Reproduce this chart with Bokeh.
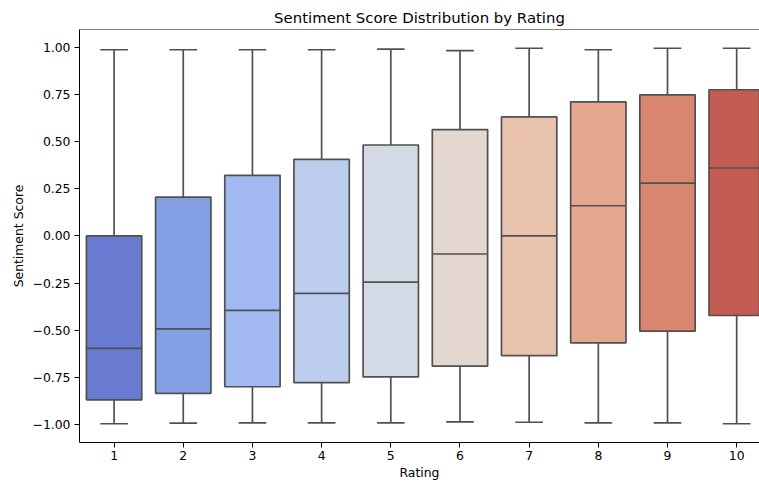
from bokeh.plotting import figure
from bokeh.models import ColumnDataSource, FixedTicker, Range1d, Span, CustomJSTickFormatter
from bokeh.embed import file_html
from bokeh.resources import INLINE

ratings = [1, 2, 3, 4, 5, 6, 7, 8, 9, 10]
tick_labels = ["1", "2", "3", "4", "5", "6", "7", "8", "9", "10"]
whisker_low = [-0.996, -0.993, -0.991, -0.991, -0.991, -0.986, -0.988, -0.991, -0.991, -0.996]
q1 = [-0.869, -0.835, -0.800, -0.778, -0.748, -0.690, -0.635, -0.567, -0.505, -0.422]
median = [-0.596, -0.493, -0.395, -0.305, -0.245, -0.096, 0.000, 0.160, 0.280, 0.360]
q3 = [0.000, 0.206, 0.321, 0.406, 0.482, 0.564, 0.631, 0.711, 0.748, 0.775]
whisker_high = [0.987, 0.987, 0.987, 0.987, 0.990, 0.982, 0.995, 0.987, 0.995, 0.995]
colors = ["#687BD0", "#839EE3", "#A1B8F0", "#BCCDEE", "#D3DAE5",
          "#E3D7D0", "#EAC3AF", "#E5A78F", "#D98670", "#C35C52"]
y_ticks = [-1.0, -0.75, -0.5, -0.25, 0.0, 0.25, 0.5, 0.75, 1.0]

box_w = 0.8
cap_w = 0.4
line_col = "#505050"
lw = 1.7
FONT = "DejaVu Sans"

src = ColumnDataSource(dict(
    x=ratings, lo=whisker_low, q1=q1, med=median, q3=q3, hi=whisker_high, color=colors,
    cl=[r - cap_w / 2 for r in ratings], cr=[r + cap_w / 2 for r in ratings],
    bl=[r - box_w / 2 for r in ratings], br=[r + box_w / 2 for r in ratings],
))

y0, y1 = -1.0955, 1.0945
p = figure(width=759, height=482, output_backend="svg", toolbar_location=None,
           x_range=Range1d(0.5, 10.33), y_range=Range1d(y0, y1),
           title="Sentiment Score Distribution by Rating",
           min_border_left=79, min_border_right=0, min_border_top=29, min_border_bottom=0)

# whiskers
p.segment(x0="x", y0="q3", x1="x", y1="hi", source=src, line_color=line_col, line_width=lw)
p.segment(x0="x", y0="lo", x1="x", y1="q1", source=src, line_color=line_col, line_width=lw)
# caps
p.segment(x0="cl", y0="hi", x1="cr", y1="hi", source=src, line_color=line_col, line_width=lw)
p.segment(x0="cl", y0="lo", x1="cr", y1="lo", source=src, line_color=line_col, line_width=lw)
# boxes
p.vbar(x="x", width=box_w, bottom="q1", top="q3", source=src, fill_color="color",
       line_color=line_col, line_width=lw)
# medians
p.segment(x0="bl", y0="med", x1="br", y1="med", source=src, line_color=line_col, line_width=lw)

p.xgrid.visible = False
p.ygrid.visible = False
p.outline_line_color = None
p.background_fill_color = "white"
p.border_fill_color = "white"

p.add_layout(Span(location=y1, dimension="width", line_color="black", line_width=1))

p.title.text_font = FONT
p.title.text_font_size = "14.9px"
p.title.text_font_style = "normal"
p.title.text_color = "black"
p.title.align = "center"
p.title.standoff = 5
p.title.offset = 4

p.xaxis.ticker = FixedTicker(ticks=ratings)
p.xaxis.major_label_overrides = {r: t for r, t in zip(ratings, tick_labels)}
p.yaxis.ticker = FixedTicker(ticks=y_ticks)
p.yaxis.formatter = CustomJSTickFormatter(code="return tick.toFixed(2).replace('-', '\\u2212');")

p.xaxis.axis_label = "Rating"
p.yaxis.axis_label = "Sentiment Score"
for ax in (p.xaxis, p.yaxis):
    ax.axis_label_text_font = FONT
    ax.axis_label_text_font_size = "12.4px"
    ax.axis_label_text_font_style = "normal"
    ax.axis_label_text_color = "black"
    ax.major_label_text_font = FONT
    ax.major_label_text_font_size = "12.4px"
    ax.major_label_text_color = "black"
    ax.axis_line_color = "black"
    ax.axis_line_width = 1
    ax.major_tick_line_color = "black"
    ax.major_tick_out = 5
    ax.major_tick_in = 0
    ax.minor_tick_out = 0
    ax.minor_tick_in = 0
p.xaxis.major_label_standoff = 3
p.yaxis.major_label_standoff = 4
p.xaxis.axis_label_standoff = 2
p.yaxis.axis_label_standoff = 4

open("out.html", "w").write(file_html(p, INLINE))
